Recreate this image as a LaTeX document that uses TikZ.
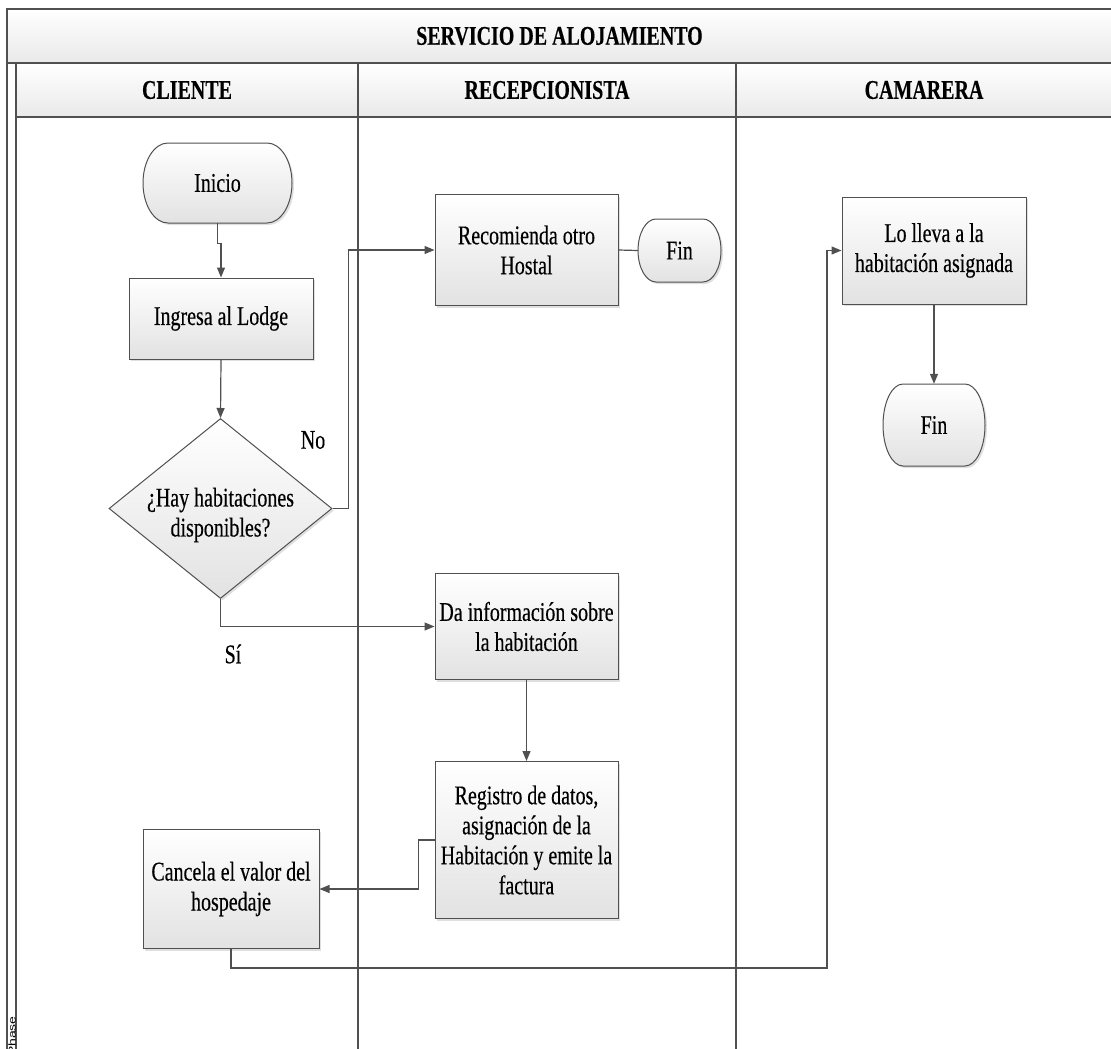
\documentclass[tikz,border=0pt]{standalone}
\usepackage{fontspec}
\setmainfont{Liberation Serif}[FakeStretch=0.74, FakeBold=0.35]
\newfontfamily\phasefont{Liberation Sans}
\usetikzlibrary{arrows.meta,shapes.geometric,shadows}
\definecolor{edge}{HTML}{505050}
\definecolor{boxlow}{HTML}{E2E2E2}
\definecolor{headlow}{HTML}{E9E9E9}
\tikzset{
  every node/.style={font=\fontsize{27}{30}\selectfont, align=center, inner sep=0pt},
  frame/.style={draw=edge, line width=1.1pt},
  flow/.style={draw=edge, line width=1.2pt},
  arr/.style={flow, -{Triangle[length=10pt,width=8pt]}},
  boxshadow/.style={drop shadow={shadow xshift=2pt, shadow yshift=-2pt, opacity=0.25}},
  boxpaint/.style={draw=edge, line width=1pt, top color=white, bottom color=boxlow, boxshadow},
  procbox/.style={rectangle, boxpaint},
  termbox/.style={rectangle},
  decbox/.style={diamond, boxpaint},
  headtext/.style={font=\fontsize{27}{30}\selectfont\bfseries},
}
% terminator outline: flat top and bottom, half-ellipse ends
% #1,#2 centre; #3 width; #4 height; #5 horizontal depth of the rounded ends
\newcommand\termoutline[5]{%
  \pgfmathsetmacro\tol{#1-#3/2+#5}%
  \pgfmathsetmacro\tor{#1+#3/2-#5}%
  \pgfmathsetmacro\tot{#2-#4/2}%
  \pgfmathsetmacro\tob{#2+#4/2}%
  \pgfmathsetmacro\tory{#4/2}%
  \path[boxpaint] (\tol,\tot) -- (\tor,\tot)
    arc[start angle=90, end angle=-90, x radius=#5pt, y radius=\tory pt]
    -- (\tol,\tob)
    arc[start angle=270, end angle=90, x radius=#5pt, y radius=\tory pt]
    -- cycle;
}
\begin{document}
\begin{tikzpicture}[x=1pt, y=-1pt]
\useasboundingbox (0,0) rectangle (1111,1049);

% pool title and lane header bands
\fill[top color=white, bottom color=headlow] (7,9) rectangle (1112,63);
\fill[top color=white, bottom color=headlow] (16,63) rectangle (1112,117);
\draw[frame] (1112,9) -- (7,9) -- (7,1060);
\draw[frame] (7,63) -- (1112,63);
\draw[frame] (16,63) -- (16,1060);
\draw[frame] (16,117) -- (1112,117);
\draw[frame] (358,63) -- (358,1060);
\draw[frame] (736,63) -- (736,1060);

\node[headtext] (pool) at (559.5,36) {SERVICIO DE ALOJAMIENTO};
\node[headtext] (lcli) at (187,90) {CLIENTE};
\node[headtext] (lrec) at (547,90) {RECEPCIONISTA};
\node[headtext] (lcam) at (924,90) {CAMARERA};

\node[rotate=90, anchor=east, font=\phasefont\fontsize{10}{12}\selectfont] (phase) at (12,1016) {\scalebox{1.4}[1]{Phase}};

% terminator outlines
\termoutline{217.5}{183}{149}{80}{25}
\termoutline{679.5}{250.5}{83}{63}{18}
\termoutline{934}{425}{102}{82}{20}

% flow steps
\node[termbox, minimum width=149pt, minimum height=80pt] (ini) at (217.5,183) {Inicio};
\node[procbox, minimum width=184pt, minimum height=81pt] (ing) at (221,318.5) {Ingresa al Lodge};
\node[decbox, minimum width=223pt, minimum height=180pt] (dec) at (220.5,508.5) {};
\node (dectext) at (220.5,515) {¿Hay habitaciones\\disponibles?};
\node[procbox, minimum width=183pt, minimum height=111pt] (rec) at (526.5,250) {Recomienda otro\\Hostal};
\node[termbox, minimum width=83pt, minimum height=63pt] (fina) at (679.5,250.5) {Fin};
\node[procbox, minimum width=183pt, minimum height=106pt] (dai) at (526.5,626.5) {Da información sobre\\la habitación};
\node[procbox, minimum width=183pt, minimum height=157pt] (reg) at (526.5,840) {Registro de datos,\\asignación de la\\Habitación y emite la\\factura};
\node[procbox, minimum width=176pt, minimum height=119pt] (can) at (231,889) {Cancela el valor del\\hospedaje};
\node[procbox, minimum width=184pt, minimum height=107pt] (llv) at (934,250.5) {Lo lleva a la\\habitación asignada};
\node[termbox, minimum width=102pt, minimum height=82pt] (finb) at (934,425) {Fin};

% branch labels
\node (lno) at (313,440) {No};
\node (lsi) at (233,654) {Sí};

% connectors
\coordinate (loop) at (827,968);
\draw[arr] (ini.south) -- ++(0,20) -| (ing.north);
\draw[arr] (ing.south) -- (dec.north);
\draw[arr] (dec.east) -- ++(16,0) |- (rec.west);
\draw[flow] (rec.east) -- (fina.west);
\draw[arr] (dec.south) |- (dai.west);
\draw[arr] (dai.south) -- (reg.north);
\draw[arr] (reg.west) -- ++(-16,0) |- (can.east);
\draw[arr] (can.south) |- (loop) |- (llv.west);
\draw[arr] (llv.south) -- (finb.north);
\end{tikzpicture}
\end{document}
